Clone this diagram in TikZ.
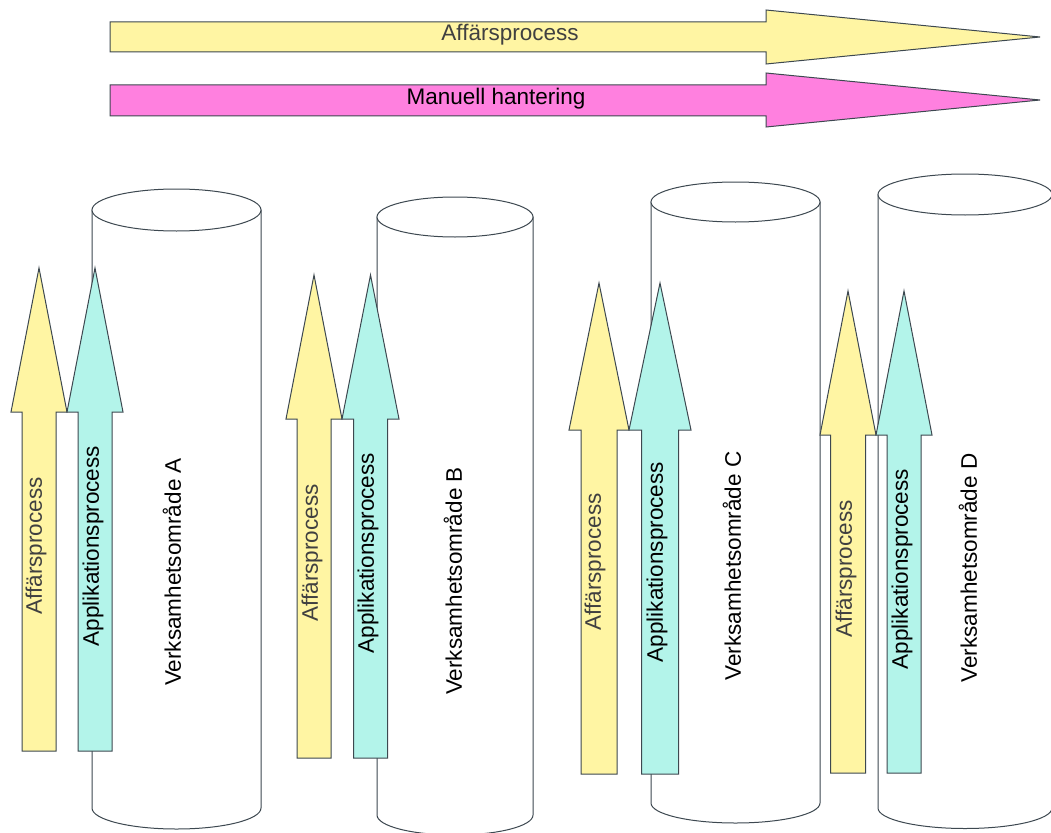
\documentclass[tikz,border=0pt]{standalone}
\usepackage{fontspec}
\setmainfont{Liberation Sans}
\definecolor{ayellow}{HTML}{FFF5A3}
\definecolor{acyan}{HTML}{B3F4EA}
\definecolor{amag}{HTML}{FF80DF}
\definecolor{edge}{HTML}{3D4850}
\definecolor{softtext}{HTML}{404040}
\tikzset{
  outl/.style={draw=edge, line width=1pt, line join=miter},
  cyl/.style={outl, fill=white},
  yarr/.style={outl, fill=ayellow},
  carr/.style={outl, fill=acyan},
  marr/.style={outl, fill=amag},
  lbl/.style={font=\fontsize{22.5}{27}\selectfont, inner sep=0pt, anchor=center},
  vlbl/.style={lbl, rotate=90},
}
% cylinder: cx, rx, top cy, bottom cy, ry
\newcommand\mycyl[5]{%
  \path[cyl] ({#1-#2},#3) -- ({#1-#2},#4)
     arc[start angle=180, end angle=0, x radius=#2, y radius=#5]
     -- ({#1+#2},#3) -- cycle;
  \path[cyl] (#1,#3) ellipse [x radius=#2, y radius=#5];
}
% vertical arrow: style, cx, tip y, head half width, shaft half width, head base y, bottom y
\newcommand\myvarr[7]{%
  \path[#1] (#2,#3) -- ({#2+#4},#6) -- ({#2+#5},#6) -- ({#2+#5},#7)
     -- ({#2-#5},#7) -- ({#2-#5},#6) -- ({#2-#4},#6) -- cycle;
}
\begin{document}
\begin{tikzpicture}[x=1pt, y=-1pt]
\clip (0,0) rectangle (1051,832);
\fill[white] (0,0) rectangle (1051,832);

% top arrows
\path[yarr] (110,22) -- (766,22) -- (766,10) -- (1040,37) -- (766,64) -- (766,52) -- (110,52) -- cycle;
\node[lbl, text=softtext] (topA) at (510,35) {Affärsprocess};
\path[marr] (110,85) -- (766,85) -- (766,73) -- (1040,100) -- (766,127) -- (766,116) -- (110,116) -- cycle;
\node[lbl] (topM) at (496,99) {Manuell hantering};

% cylinders
\mycyl{176.5}{84.5}{210}{808}{21}
\mycyl{455}{78}{217}{815}{20}
\mycyl{735.5}{84.5}{202}{803}{20}
\mycyl{965}{87}{194.5}{808}{20.5}

% vertical arrows
\myvarr{yarr}{39}{268}{28}{17}{412}{751}
\myvarr{carr}{95}{268}{28}{17}{412}{751}
\myvarr{yarr}{314}{275}{28}{17}{419}{758}
\myvarr{carr}{370.5}{275}{28.5}{17}{419}{758}
\myvarr{yarr}{599}{283}{30}{18}{430}{774}
\myvarr{carr}{660}{283}{31}{18.5}{430}{774}
\myvarr{yarr}{848}{291}{28}{17.5}{435}{773}
\myvarr{carr}{904}{291}{28}{17}{435}{773}

% labels
\node[vlbl, text=softtext] (aA) at (36,546) {Affärsprocess};
\node[vlbl] (pA) at (93,546) {Applikationsprocess};
\node[vlbl] (vA) at (172,572) {Verksamhetsområde A};

\node[vlbl, text=softtext] (aB) at (312,553) {Affärsprocess};
\node[vlbl] (pB) at (368,553) {Applikationsprocess};
\node[vlbl] (vB) at (453,581) {Verksamhetsområde B};

\node[vlbl, text=softtext] (aC) at (595,562) {Affärsprocess};
\node[vlbl] (pC) at (657,562) {Applikationsprocess};
\node[vlbl] (vC) at (732,566) {Verksamhetsområde C};

\node[vlbl, text=softtext] (aD) at (846,569) {Affärsprocess};
\node[vlbl] (pD) at (902,569) {Applikationsprocess};
\node[vlbl] (vD) at (968,568) {Verksamhetsområde D};
\end{tikzpicture}
\end{document}
